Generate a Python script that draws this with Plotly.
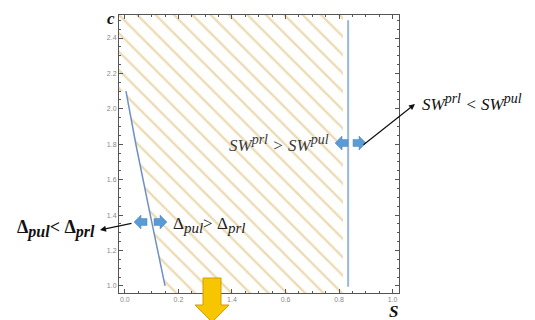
import plotly.graph_objects as go

# ---- data ----
x_range = [-0.022, 1.024]
y_range = [0.96, 2.53]
x_tick_vals = [0.0, 0.2, 0.4, 0.6, 0.8, 1.0]
x_tick_labels = ["0.0", "0.2", "1.4", "0.6", "0.8", "1.0"]
y_tick_vals = [1.0, 1.2, 1.4, 1.6, 1.8, 2.0, 2.2, 2.4]
y_tick_labels = ["1.0", "1.2", "1.4", "1.6", "1.8", "2.0", "2.2", "2.4"]

# boundary curve Delta_pul = Delta_prl
delta_s = [0.004, 0.041, 0.095, 0.15]
delta_c = [2.10, 1.80, 1.40, 1.00]

# boundary SW_prl = SW_pul (vertical)
sw_s = [0.834, 0.834]
sw_c = [0.995, 2.50]

# hatched region (SW_prl > SW_pul and Delta_pul > Delta_prl)
region_s = [-0.022, -0.022, 0.004, 0.041, 0.095, 0.15, 0.155, 0.815, 0.815]
region_c = [2.53, 2.10, 2.10, 1.80, 1.40, 1.00, 0.96, 0.96, 2.53]

VW, VH = 535, 320          # browser window
OFF = 8                    # default body margin of the html page
L, R, T, B = 119, 399, 15, 293   # plot area in window pixels


def px(xp):
    return (xp - L) / (R - L)


def py(yp):
    return (B - yp) / (B - T)


fig = go.Figure()

fig.add_trace(go.Scatter(
    x=region_s, y=region_c, mode="lines", fill="toself",
    line=dict(width=0, color="rgba(0,0,0,0)"),
    fillcolor="rgba(0,0,0,0)",
    fillpattern=dict(shape="\\", fgcolor="#d9b866", bgcolor="rgba(0,0,0,0)",
                     size=13, solidity=0.18),
    hoverinfo="skip", showlegend=False))

fig.add_trace(go.Scatter(
    x=delta_s, y=delta_c, mode="lines",
    line=dict(color="#6f8fc8", width=1.5), showlegend=False))

fig.add_trace(go.Scatter(
    x=sw_s, y=sw_c, mode="lines",
    line=dict(color="#9ab6dc", width=2), showlegend=False))

axis_common = dict(
    showgrid=False, zeroline=False, showline=True, linecolor="#555",
    linewidth=1, mirror="ticks", ticks="inside", ticklen=4,
    tickcolor="#555", tickwidth=1,
    tickfont=dict(family="Liberation Sans", size=7, color="#888"),
)

fig.update_xaxes(range=x_range, tickvals=x_tick_vals, ticktext=x_tick_labels,
                 minor=dict(dtick=0.05, tick0=0, ticks="inside", ticklen=2,
                            tickcolor="#555"),
                 **axis_common)
fig.update_yaxes(range=y_range, tickvals=y_tick_vals, ticktext=y_tick_labels,
                 minor=dict(dtick=0.05, tick0=0, ticks="inside", ticklen=2,
                            tickcolor="#555"),
                 **axis_common)

serif = "Liberation Serif"


def label(xp, yp, text, size, color):
    return dict(x=px(xp), y=py(yp), xref="paper", yref="paper",
                xanchor="center", yanchor="middle", text=text,
                showarrow=False,
                font=dict(family=serif, size=size, color=color))


def sm(t, s):
    return '<span style="font-size:%dpx">%s</span>' % (s, t)


ann = [
    label(111, 18, "<b><i>c</i></b>", 17, "#111"),
    label(393, 311, "<b><i>S</i></b>", 17, "#111"),
    label(279, 143, "<i>SW<sup>%s</sup> &gt; SW<sup>%s</sup></i>"
          % (sm("prl", 14), sm("pul", 14)), 17, "#3a3a3a"),
    label(209, 225, "Δ<sub><i>%s</i></sub>&gt; Δ<sub><i>%s</i></sub>"
          % (sm("pul", 15), sm("prl", 15)), 17, "#222"),
    label(56, 229, "<b>Δ<sub><i>%s</i></sub>&lt; Δ<sub><i>%s</i></sub></b>"
          % (sm("pul", 16), sm("prl", 16)), 18, "#111"),
    label(472, 102, "<i>SW<sup>%s</sup> &lt; SW<sup>%s</sup></i>"
          % (sm("prl", 14), sm("pul", 14)), 17, "#111"),
]
# black pointer arrows (head position, tail offset in pixels)
ann.append(dict(x=px(100), y=py(230), xref="paper", yref="paper",
                ax=133 - 100, ay=223 - 230, axref="pixel", ayref="pixel",
                text="", showarrow=True, arrowhead=2, arrowsize=1,
                arrowwidth=1.2, arrowcolor="#111"))
ann.append(dict(x=px(415), y=py(104), xref="paper", yref="paper",
                ax=362 - 415, ay=146 - 104, axref="pixel", ayref="pixel",
                text="", showarrow=True, arrowhead=2, arrowsize=1,
                arrowwidth=1.2, arrowcolor="#111"))

shapes = []
blue = "#5b9bd5"
left_arrow = "M0,0 L7,7 L7,3.5 L13,3.5 L13,-3.5 L7,-3.5 L7,-7 Z"
right_arrow = "M0,0 L-7,7 L-7,3.5 L-13,3.5 L-13,-3.5 L-7,-3.5 L-7,-7 Z"
for (xa, ya, path) in [(134, 222, left_arrow), (167, 222, right_arrow),
                       (335, 143, left_arrow), (366, 143, right_arrow)]:
    shapes.append(dict(type="path", xref="paper", yref="paper",
                       xsizemode="pixel", ysizemode="pixel",
                       xanchor=px(xa), yanchor=py(ya), path=path,
                       fillcolor=blue, line=dict(width=0.5, color="#4a86c0"),
                       layer="above"))
# yellow down arrow
yellow_path = "M-9,0 L9,0 L9,-27 L17,-27 L0,-44 L-17,-27 L-9,-27 Z"
shapes.append(dict(type="path", xref="paper", yref="paper",
                   xsizemode="pixel", ysizemode="pixel",
                   xanchor=px(212), yanchor=py(278), path=yellow_path,
                   fillcolor="#f7c600", line=dict(width=1, color="#d49a00"),
                   layer="above"))

fig.update_layout(
    width=VW - OFF, height=VH - OFF,
    margin=dict(l=L - OFF, r=VW - R, t=T - OFF, b=VH - B),
    paper_bgcolor="white", plot_bgcolor="white",
    annotations=ann, shapes=shapes, showlegend=False,
)

fig.write_html("out.html")
